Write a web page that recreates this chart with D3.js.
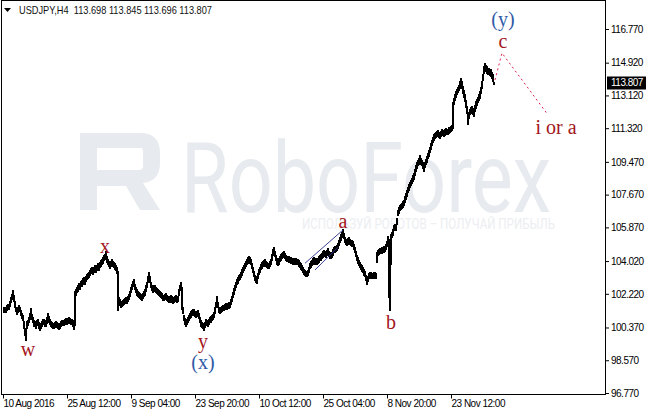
<!DOCTYPE html>
<html><head><meta charset="utf-8">
<script src="https://cdn.jsdelivr.net/npm/d3@7"></script>
<style>body{margin:0;background:#fff}svg{display:block}</style>
</head><body><svg id="c" width="646" height="414"></svg>
<script>
const symbolTitle = "USDJPY,H4";
const lastQuote = [113.698, 113.845, 113.696, 113.807];
const priceTicks = [96.770, 98.570, 100.370, 102.220, 104.020, 105.870, 107.670, 109.470, 111.320, 113.120, 114.920, 116.770];
const timeTickBars = [0, 64, 128, 192, 256, 320, 384, 448];
const timeTickLabels = ["10 Aug 2016", "25 Aug 12:00", "9 Sep 04:00", "23 Sep 20:00", "10 Oct 12:00", "25 Oct 04:00", "8 Nov 20:00", "23 Nov 12:00"];
// H4 bars: [high, low], one per bar, 10 Aug 2016 -> 2 Dec 2016
const barHighLow = [
[101.48,101.18],[101.52,101.22],[101.45,101.15],[101.60,101.30],[101.68,101.38],[101.62,101.33],[101.82,101.50],[102.02,101.70],[102.22,101.88],[102.42,102.05],
[102.15,101.75],[101.80,101.45],[101.52,101.20],[101.38,101.05],[101.48,101.15],[101.60,101.28],[101.52,101.20],[101.32,101.00],[101.18,100.85],[101.05,100.72],
[100.75,100.30],[100.35,99.90],[100.30,99.65],[100.70,100.30],[100.80,100.45],[100.95,100.60],[101.15,100.78],[101.45,101.05],[101.12,100.78],[100.92,100.60],
[100.78,100.42],[100.72,100.38],[100.68,100.30],[100.78,100.45],[100.84,100.48],[100.68,100.30],[100.52,100.15],[100.62,100.28],[100.72,100.38],[100.84,100.48],
[100.82,100.50],[100.78,100.42],[100.72,100.38],[100.95,100.55],[101.18,100.80],[100.98,100.62],[100.84,100.48],[100.72,100.38],[100.68,100.32],[100.62,100.28],
[100.60,100.28],[100.68,100.32],[100.72,100.38],[100.68,100.33],[100.62,100.28],[100.56,100.22],[100.62,100.28],[100.72,100.38],[100.78,100.45],[100.76,100.44],
[100.78,100.46],[100.82,100.50],[100.88,100.52],[100.82,100.50],[100.90,100.55],[100.94,100.60],[100.88,100.55],[100.82,100.50],[100.86,100.54],[100.78,100.42],
[100.62,100.22],[102.35,100.45],[102.50,102.10],[102.60,102.25],[102.68,102.32],[102.82,102.46],[102.78,102.42],[102.92,102.58],[102.98,102.62],[103.08,102.72],
[103.15,102.80],[103.08,102.72],[103.22,102.88],[103.32,102.96],[103.38,103.02],[103.42,103.08],[103.55,103.20],[103.65,103.30],[103.68,103.32],[103.62,103.28],
[103.70,103.35],[103.78,103.42],[103.72,103.38],[103.80,103.46],[103.90,103.55],[103.85,103.50],[103.98,103.62],[104.06,103.70],[104.14,103.78],[104.22,103.88],
[104.35,104.00],[104.42,104.08],[104.55,104.15],[104.28,103.92],[104.14,103.78],[104.02,103.68],[103.92,103.56],[104.02,103.68],[104.14,103.78],[104.05,103.70],
[103.98,103.62],[103.90,103.55],[103.80,103.45],[103.68,103.32],[103.50,101.30],[102.05,101.65],[101.92,101.55],[101.78,101.42],[101.85,101.50],[101.90,101.55],
[101.94,101.58],[102.00,101.64],[102.05,101.70],[102.05,101.68],[102.12,101.78],[102.22,101.86],[102.38,102.02],[102.60,102.24],[102.78,102.42],[102.92,102.58],
[103.05,102.68],[102.78,102.42],[102.60,102.25],[102.48,102.12],[102.38,102.02],[102.32,101.98],[102.28,101.92],[102.22,101.86],[102.18,101.82],[102.28,101.92],
[102.38,102.02],[102.50,102.12],[102.68,102.32],[102.88,102.52],[103.18,102.82],[103.42,103.05],[103.18,102.82],[102.88,102.52],[102.72,102.38],[102.60,102.25],
[102.68,102.32],[102.72,102.35],[102.62,102.28],[102.55,102.20],[102.48,102.14],[102.42,102.08],[102.38,102.02],[102.32,101.98],[102.28,101.92],[102.18,101.82],
[102.15,101.80],[102.22,101.88],[102.26,101.92],[102.18,101.82],[102.12,101.78],[102.05,101.70],[102.10,101.74],[102.15,101.80],[102.08,101.72],[102.02,101.68],
[102.05,101.70],[102.10,101.75],[102.15,101.80],[102.08,101.72],[102.12,101.78],[102.48,102.12],[102.72,102.38],[102.88,102.52],[102.60,101.35],[101.50,101.12],
[101.05,100.70],[100.88,100.52],[100.78,100.42],[100.85,100.50],[100.95,100.60],[101.05,100.70],[101.16,100.82],[101.25,100.90],[101.34,100.98],[101.38,101.02],
[101.40,101.04],[101.30,100.94],[101.22,100.88],[101.28,100.92],[101.34,100.98],[101.18,100.82],[100.95,100.60],[100.78,100.42],[100.68,100.32],[100.62,100.28],
[100.56,100.20],[100.68,100.32],[100.84,100.48],[100.80,100.44],[100.78,100.42],[100.86,100.50],[100.95,100.60],[101.00,100.64],[101.06,100.70],[101.12,100.78],
[101.22,100.88],[101.48,101.12],[101.78,101.42],[102.08,101.70],[101.78,101.42],[101.50,101.15],[101.48,101.12],[101.50,101.15],[101.56,101.20],[101.60,101.26],
[101.62,101.28],[101.66,101.32],[101.70,101.35],[101.68,101.32],[101.72,101.36],[101.76,101.40],[101.78,101.42],[101.92,101.58],[102.12,101.78],[102.32,101.98],
[102.52,102.18],[102.70,102.36],[102.88,102.52],[103.04,102.68],[103.12,102.78],[103.26,102.90],[103.32,102.98],[103.42,103.08],[103.58,103.22],[103.70,103.34],
[103.82,103.48],[103.92,103.56],[104.02,103.68],[104.14,103.78],[104.22,103.88],[104.30,103.95],[104.22,103.88],[104.14,103.78],[103.92,103.58],[103.70,103.34],
[103.48,103.12],[103.25,102.90],[103.18,102.82],[103.15,102.78],[103.38,103.02],[103.58,103.24],[103.72,103.38],[103.86,103.52],[103.95,103.60],[104.02,103.68],
[104.08,103.72],[104.14,103.78],[104.05,103.70],[103.98,103.62],[103.94,103.60],[103.92,103.56],[104.02,103.68],[104.14,103.78],[104.38,104.02],[104.68,104.32],
[104.80,104.48],[104.58,104.22],[104.36,104.00],[104.18,103.82],[104.08,103.74],[104.18,103.82],[104.30,103.96],[104.38,104.02],[104.46,104.12],[104.52,104.18],
[104.58,104.22],[104.48,104.12],[104.36,104.00],[104.32,103.98],[104.30,103.96],[104.28,103.92],[104.24,103.90],[104.22,103.88],[104.20,103.84],[104.18,103.82],
[104.14,103.78],[104.18,103.82],[104.20,103.84],[104.16,103.80],[104.14,103.78],[104.06,103.70],[103.98,103.62],[103.90,103.54],[103.80,103.46],[103.70,103.34],
[103.58,103.24],[103.52,103.18],[103.48,103.12],[103.50,103.15],[103.54,103.18],[103.72,103.38],[103.92,103.56],[104.00,103.64],[104.08,103.74],[104.18,103.82],
[104.25,103.90],[104.18,103.82],[104.14,103.78],[104.18,103.82],[104.20,103.84],[104.28,103.92],[104.36,104.00],[104.40,104.04],[104.46,104.12],[104.55,104.20],
[104.64,104.28],[104.58,104.22],[104.52,104.18],[104.62,104.28],[104.75,104.40],[104.58,104.22],[104.46,104.12],[104.50,104.14],[104.52,104.18],[104.68,104.32],
[104.80,104.44],[104.82,104.48],[104.86,104.50],[104.92,104.58],[105.02,104.66],[105.18,104.82],[105.35,105.00],[105.48,105.12],[105.62,105.28],[105.78,105.42],
[105.58,105.22],[105.35,105.00],[105.22,104.88],[105.18,104.82],[105.28,104.92],[105.35,105.00],[105.22,104.88],[105.18,104.82],[105.15,104.80],[105.12,104.78],
[104.98,104.62],[104.80,104.44],[104.58,104.22],[104.36,104.00],[104.22,103.88],[104.08,103.74],[103.98,103.62],[103.86,103.52],[103.78,103.42],[103.70,103.34],
[103.58,103.22],[103.48,103.12],[103.28,102.92],[103.15,102.70],[103.22,102.88],[103.36,103.02],[103.40,103.04],[103.42,103.08],[103.38,103.02],[103.36,103.02],
[103.40,103.04],[103.42,103.08],[103.38,103.02],[104.52,103.90],[104.62,104.28],[104.68,104.34],[104.72,104.38],[104.74,104.40],[104.78,104.42],[104.80,104.44],
[104.82,104.48],[104.86,104.50],[104.98,104.62],[105.12,104.78],[105.40,104.95],[105.25,102.00],[104.30,101.25],[105.50,103.80],[105.62,105.28],[105.78,105.42],
[106.02,105.66],[106.08,105.72],[106.02,105.66],[106.40,105.98],[106.85,106.48],[106.98,106.62],[107.12,106.76],[107.18,106.82],[107.22,106.86],[107.30,106.94],
[107.40,107.02],[107.58,107.22],[107.78,107.40],[107.94,107.56],[108.10,107.74],[108.24,107.86],[108.38,108.02],[108.48,108.12],[108.60,108.24],[108.74,108.36],
[108.88,108.50],[109.08,108.72],[109.32,108.94],[109.44,109.06],[109.58,109.22],[109.68,109.32],[109.82,109.44],[109.68,109.32],[109.58,109.22],[109.44,109.06],
[109.32,108.90],[109.48,109.12],[109.64,109.28],[109.78,109.42],[109.98,109.60],[110.14,109.76],[110.30,109.94],[110.48,110.12],[110.68,110.32],[110.86,110.50],
[111.02,110.64],[111.08,110.72],[111.12,110.76],[111.18,110.82],[111.24,110.86],[111.12,110.78],[111.06,110.72],[111.18,110.82],[111.30,110.92],[111.22,110.88],
[111.18,110.82],[111.26,110.90],[111.34,110.98],[111.30,110.94],[111.28,110.94],[111.36,111.00],[111.40,111.04],[111.46,111.10],[111.50,111.15],[112.75,111.30],
[113.00,112.60],[113.22,112.84],[113.34,112.96],[113.50,113.12],[113.60,113.24],[113.72,113.34],[113.90,113.50],[114.10,113.72],[113.90,113.50],[113.62,113.22],
[113.40,113.00],[113.18,112.78],[112.85,112.45],[112.52,112.12],[112.10,111.50],[112.20,111.80],[112.40,112.02],[112.50,112.10],[112.52,112.12],[112.44,112.06],
[112.36,111.96],[112.60,112.20],[112.80,112.40],[112.94,112.56],[113.06,112.68],[113.20,112.80],[113.34,112.94],[113.60,113.20],[113.90,113.48],[114.30,113.90],
[114.72,114.32],[114.92,114.55],[114.80,114.40],[114.72,114.32],[114.64,114.26],[114.60,114.22],[114.58,114.18],[114.55,114.15],[114.40,114.00],[114.28,113.88],[113.85,113.70]
];
// wave annotations: [text, bar index, price, kind]
const waveLabels = [
  ["w", 25, 99.17, "minor"], ["x", 102, 104.79, "minor"], ["y", 200, 99.62, "minor"], ["(x)", 200, 98.42, "major"],
  ["a", 340, 106.17, "minor"], ["b", 388, 100.62, "minor"], ["c", 500, 116.06, "minor"], ["(y)", 500, 117.27, "major"],
  ["i or a", 553, 111.33, "minor"]
];
const channelUpper = [[302, 103.90], [340, 105.73]];
const channelLower = [[312, 103.53], [335, 104.78]];
const projection = [[492, 113.97], [499, 115.45], [545, 112.05]];

const svg = d3.select("#c");
const plotL = 1.5, plotT = 0.5, plotR = 605.5, plotB = 394.5;
const x = d3.scaleLinear().domain([0, 1]).range([3, 4]);
const y = d3.scaleLinear().domain([96.77, 116.77]).range([393, 29]);
const axisFont = "'Liberation Sans', Arial, sans-serif";

// watermark
const wm = svg.append("g").attr("fill", "#e7eaee");
wm.append("path").attr("fill-rule", "evenodd")
  .attr("d", "M80,133 H140 Q160,133 160,153 V163 Q160,181 143,183 L160,210 H140 L126,186 H97 V210 H80 Z M97,148 H141 Q143,148 143,152 V166 Q143,170 139,170 H97 Z");
wm.append("text").attr("x", 181).attr("y", 212).attr("font-family", "Roboto, 'Open Sans', sans-serif")
  .attr("font-size", 98).attr("textLength", 370).attr("lengthAdjust", "spacingAndGlyphs").text("RoboForex");
wm.append("text").attr("x", 302).attr("y", 229).attr("font-family", "Roboto, 'Open Sans', sans-serif")
  .attr("fill", "#eceef1").attr("font-size", 15).attr("textLength", 253).attr("lengthAdjust", "spacingAndGlyphs")
  .text("ИСПОЛЬЗУЙ РОБОТОВ – ПОЛУЧАЙ ПРИБЫЛЬ");

// bars
svg.append("g").selectAll("rect").data(barHighLow).join("rect")
  .attr("x", (d, i) => x(i)).attr("width", 2)
  .attr("y", d => Math.round(y(d[0])))
  .attr("height", d => Math.max(1, Math.round(y(d[1])) - Math.round(y(d[0]))))
  .attr("fill", "#000").attr("shape-rendering", "crispEdges");

// channel lines
const ln = d3.line().x(d => x(d[0])).y(d => y(d[1]));
[channelUpper, channelLower].forEach(c => svg.append("path").attr("d", ln(c))
  .attr("fill", "none").attr("stroke", "#27308a").attr("stroke-width", 0.9));
// projection
svg.append("path").attr("d", ln(projection)).attr("fill", "none")
  .attr("stroke", "#dc2050").attr("stroke-width", 1).attr("stroke-dasharray", "2,3");

// wave labels
svg.append("g").selectAll("text").data(waveLabels).join("text")
  .attr("x", d => x(d[1])).attr("y", d => y(d[2])).attr("dy", "0.32em")
  .attr("text-anchor", "middle").attr("font-family", "'Liberation Serif', 'Times New Roman', serif")
  .attr("font-size", 20).attr("fill", d => d[3] === "major" ? "#2f5aa6" : "#a3161c").text(d => d[0]);

// frame
svg.append("rect").attr("x", plotL).attr("y", plotT).attr("width", plotR - plotL).attr("height", plotB - plotT)
  .attr("fill", "none").attr("stroke", "#000").attr("stroke-width", 1);

// right axis
const ya = svg.append("g").attr("transform", `translate(${plotR - 0.5},0)`)
  .call(d3.axisRight(y).tickValues(priceTicks).tickFormat(d3.format(".3f")).tickSize(4).tickPadding(2));
ya.select(".domain").remove();
ya.selectAll("text").attr("font-family", axisFont).attr("font-size", 10).attr("letter-spacing", "-0.5").attr("fill", "#000");
ya.selectAll("line").attr("stroke", "#000");

// last price marker
const lp = lastQuote[3];
svg.append("rect").attr("x", 607).attr("y", Math.round(y(lp)) - 6.5).attr("width", 39).attr("height", 13).attr("fill", "#000");
svg.append("text").attr("x", 611).attr("y", y(lp)).attr("dy", "0.32em").attr("font-family", axisFont)
  .attr("font-size", 10).attr("letter-spacing", "-0.5").attr("fill", "#fff").text(d3.format(".3f")(lp));

// bottom axis
const xa = svg.append("g").attr("transform", `translate(0,${plotB})`)
  .call(d3.axisBottom(x).tickValues(timeTickBars).tickFormat((d, i) => timeTickLabels[i]).tickSize(4).tickPadding(2));
xa.select(".domain").remove();
xa.selectAll("line").attr("stroke", "#000");
xa.selectAll("text").attr("text-anchor", "start").attr("dx", "0").attr("y", 12.5).attr("dy", 0)
  .attr("font-family", axisFont).attr("font-size", 10).attr("letter-spacing", "-0.5").attr("fill", "#000");

// header
svg.append("path").attr("d", "M4,8 H11 L7.5,12 Z").attr("fill", "#000");
svg.append("text").attr("x", 19).attr("y", 14).attr("font-family", axisFont).attr("font-size", 10.5)
  .attr("fill", "#111").attr("textLength", 193).attr("lengthAdjust", "spacingAndGlyphs")
  .attr("xml:space", "preserve").style("white-space", "pre")
  .text(symbolTitle + "  " + lastQuote.map(d3.format(".3f")).join(" "));
</script></body></html>
